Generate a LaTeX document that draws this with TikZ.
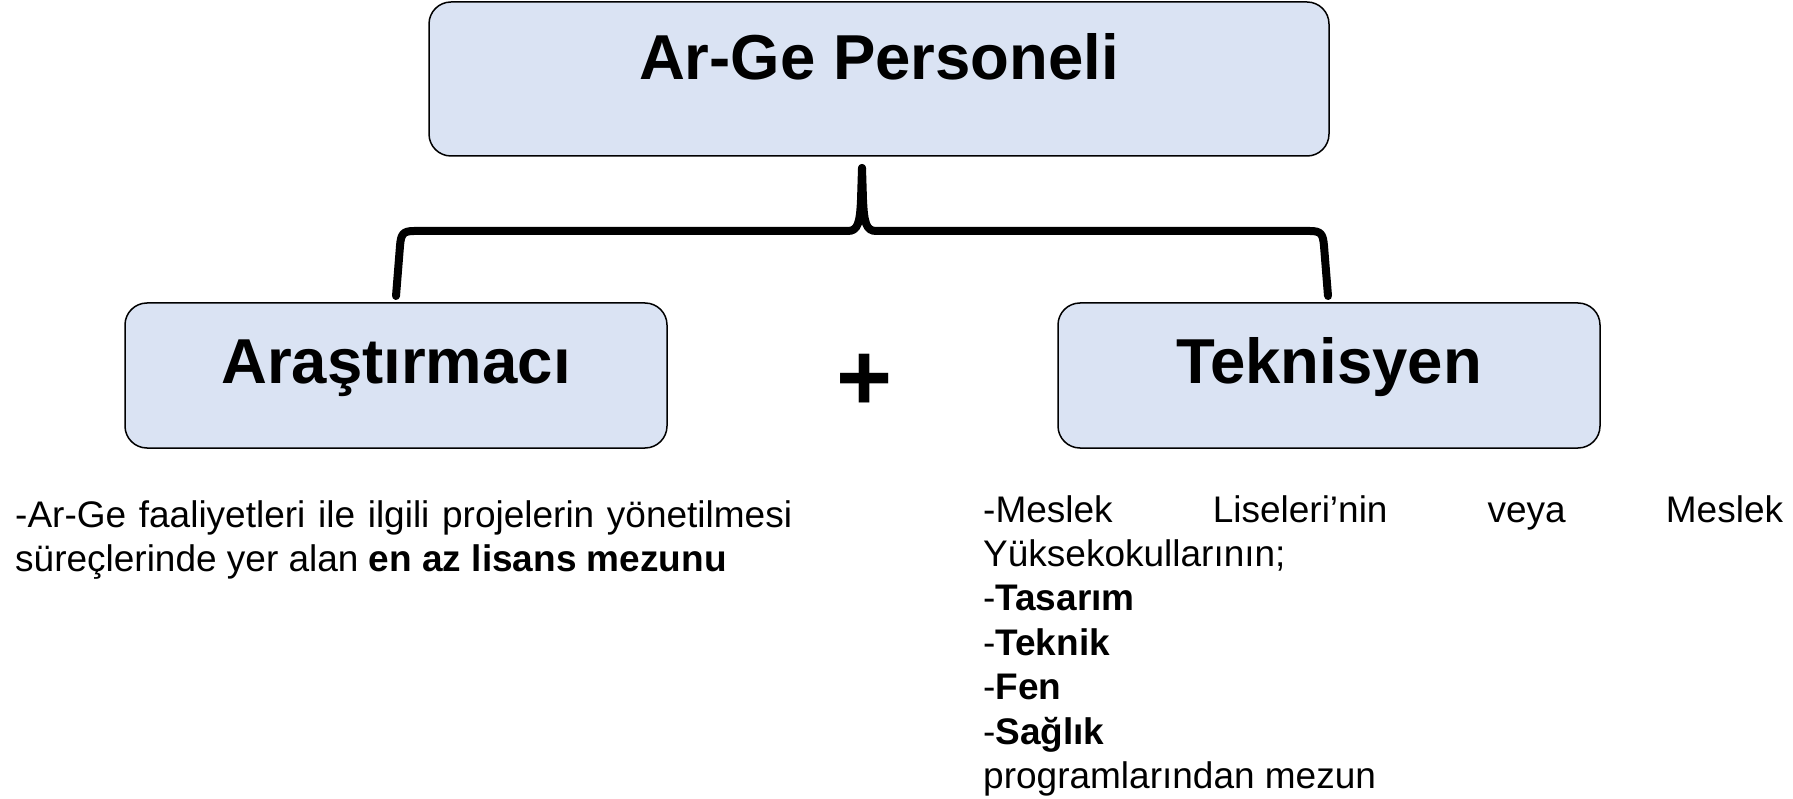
\documentclass[tikz,border=0pt]{standalone}
\usepackage{fontspec}
\setmainfont{Liberation Sans}
\definecolor{kutumavi}{HTML}{DAE3F3}
\hbadness=10000

\begin{document}
\begin{tikzpicture}[x=1pt,y=-1pt,
    kutu/.style={draw=black,line width=1.5pt,fill=kutumavi,
      rounded corners=22pt,inner sep=0pt,
      font=\fontsize{63.5}{70}\selectfont\bfseries},
    aciklama/.style={inner sep=0pt,anchor=base west,align=justify,
      font=\fontsize{37}{44.4}\selectfont},
    kuskali/.style={line width=8pt,line cap=round,line join=round}]
  \useasboundingbox (0,0) rectangle (1793,799);
  % kutular
  \node[kutu,minimum width=900,minimum height=154,
        text height=50,text depth=48] (personel) at (879,79) {Ar-Ge Personeli};
  \node[kutu,minimum width=542,minimum height=145,
        text height=50,text depth=35] (arastirmaci) at (396,375.5) {Araştırmacı};
  \node[kutu,minimum width=542,minimum height=145,
        text height=50,text depth=35] (teknisyen) at (1329,375.5) {Teknisyen};
  \node[font=\fontsize{96}{96}\selectfont\bfseries,inner sep=0pt]
        (arti) at (865,382) {+};
  % kuskali ayrac
  \coordinate (ucA) at (396,296);
  \coordinate (ucT) at (1328,296);
  \coordinate (tepe) at (862,168);
  \draw[kuskali] (ucA) -- (400,246) .. controls (401,234) and (403,231) .. (414,231)
        -- (848,231) .. controls (858,231) and (860,222) .. (861,200) -- (tepe);
  \draw[kuskali] (ucT) -- (1324,246) .. controls (1323,234) and (1321,231) .. (1310,231)
        -- (876,231) .. controls (866,231) and (864,222) .. (863,200) -- (tepe);
  % aciklamalar
  \node[aciklama,text width=777] (arastirmaciYazi) at (15,527)
        {-Ar-Ge faaliyetleri ile ilgili projelerin yönetilmesi
         süreçlerinde yer alan \textbf{en az lisans mezunu}};
  \node[aciklama,text width=800] (teknisyenYazi) at (983,522)
        {-Meslek Liseleri’nin veya Meslek\linebreak
         Yüksekokullarının;\newline
         -\textbf{Tasarım}\newline
         -\textbf{Teknik}\newline
         -\textbf{Fen}\newline
         -\textbf{Sağlık}\newline
         programlarından mezun};
\end{tikzpicture}
\end{document}
